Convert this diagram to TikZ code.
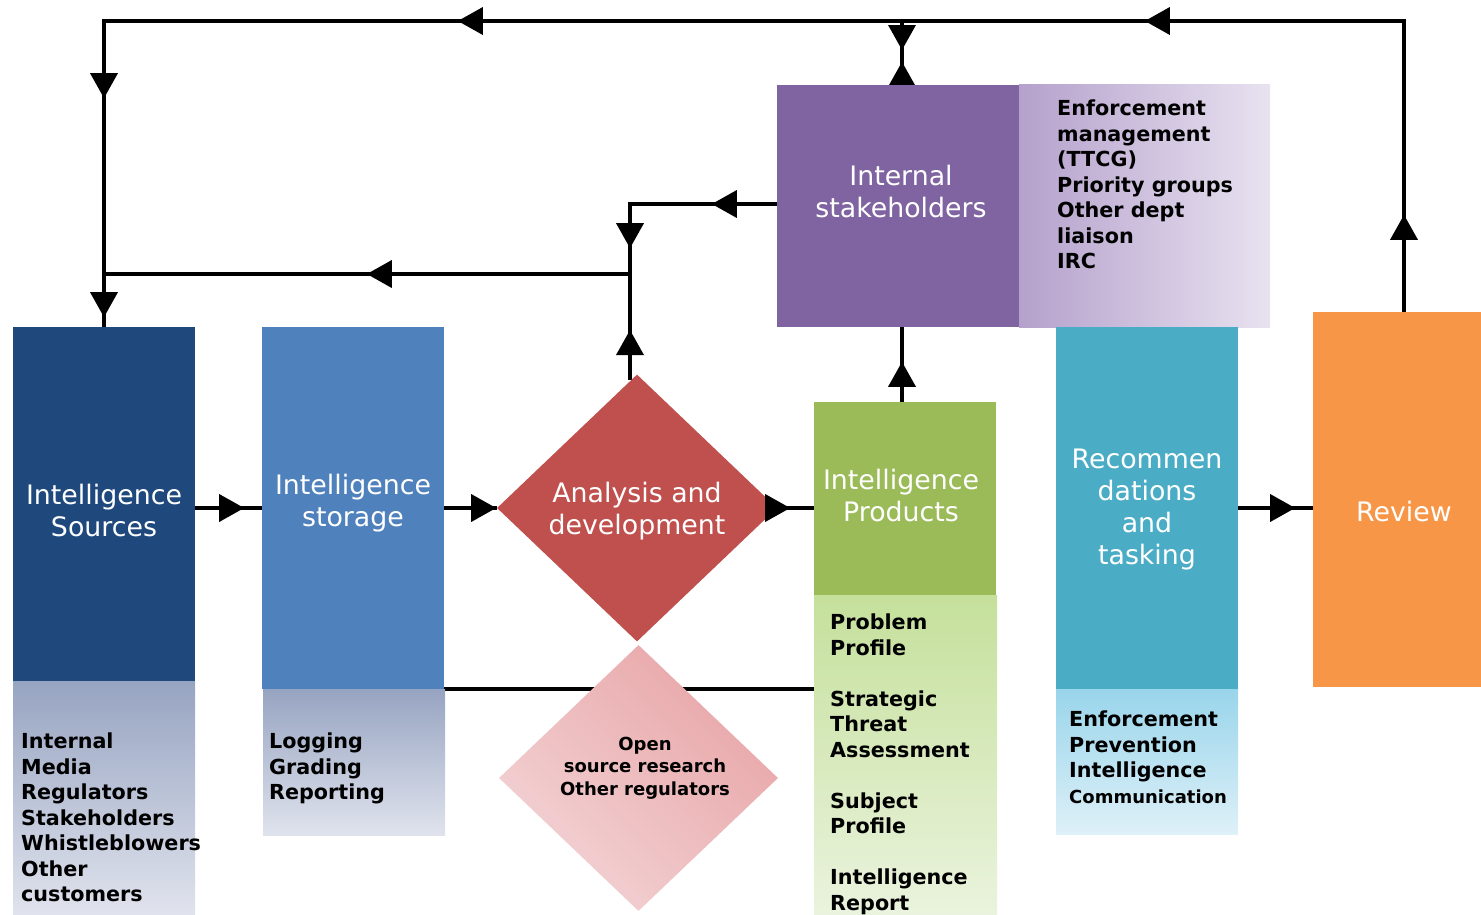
\documentclass[tikz,border=0pt]{standalone}
\usepackage{fontspec}
\setmainfont{DejaVu Sans}
\usetikzlibrary{shapes.geometric,arrows.meta,decorations.markings,backgrounds}
\definecolor{cSrc}{HTML}{1F497D}
\definecolor{cSto}{HTML}{4F81BD}
\definecolor{cAna}{HTML}{C0504D}
\definecolor{cPrd}{HTML}{9BBB59}
\definecolor{cStk}{HTML}{8064A2}
\definecolor{cRec}{HTML}{4BACC6}
\definecolor{cRev}{HTML}{F79646}
\definecolor{cGrayTop}{HTML}{97A4C1}
\definecolor{cGrayBot}{HTML}{E0E3ED}
\definecolor{cPrdTop}{HTML}{C5E09B}
\definecolor{cPrdBot}{HTML}{ECF4E1}
\definecolor{cRecTop}{HTML}{99D5EB}
\definecolor{cRecBot}{HTML}{DEF0F8}
\definecolor{cStkL}{HTML}{B5A1CC}
\definecolor{cStkR}{HTML}{E8E2F0}
\definecolor{cOpnDark}{HTML}{E8A6A8}
\definecolor{cOpnLight}{HTML}{F3D3D5}
\newcommand\lblfont{\fontsize{26.8}{32}\selectfont}
\newcommand\lstfont{\fontsize{20.7}{25.5}\selectfont\bfseries}
\newcommand\opnfont{\fontsize{18}{22.5}\selectfont\bfseries}
\tikzset{
  blk/.style={rectangle, inner sep=0pt, draw=none, minimum width=182pt},
  lbl/.style={inner sep=0pt, align=center, text=white, font=\lblfont},
  lst/.style={anchor=north west, inner sep=0pt, align=left, font=\lstfont, text=black},
  conn/.style={line width=3.5pt, draw=black},
  tipat/.style={postaction={decorate,decoration={markings,mark=at position #1 with {\arrow{Triangle[length=25pt,width=27pt]}}}}}
}
\begin{document}
\begin{tikzpicture}[x=1pt,y=-1pt]
\useasboundingbox (0,0) rectangle (1481,914);
% boxes
\node[blk, fill=cSrc, minimum height=354pt] (src) at (104,504) {};
\node[blk, top color=cGrayTop, bottom color=cGrayBot, minimum height=233pt] (srcsub) at (104,797.5) {};
\node[blk, fill=cSto, minimum height=362pt] (sto) at (353,508) {};
\node[blk, top color=cGrayTop, bottom color=cGrayBot, minimum height=146pt] (stosub) at (354,762) {};
\node[diamond, inner sep=0pt, fill=cAna, minimum width=280pt, minimum height=267pt] (ana) at (637,508) {};
\node[diamond, inner sep=0pt, top color=cOpnDark, bottom color=cOpnLight, shading angle=-45, minimum width=279pt, minimum height=266pt] (opn) at (638.5,778) {};
\node[blk, fill=cPrd, minimum height=193pt] (prd) at (905,498.5) {};
\node[blk, top color=cPrdTop, bottom color=cPrdBot, minimum width=183pt, minimum height=335pt] (prdsub) at (905.5,762.5) {};
\node[blk, fill=cStk, minimum width=242pt, minimum height=242pt] (stk) at (898,206) {};
\node[blk, left color=cStkL, right color=cStkR, minimum width=251pt, minimum height=243pt] (stkside) at (1144.5,205.5) {};
\node[blk, fill=cRec, minimum height=362pt] (rec) at (1147,508) {};
\node[blk, top color=cRecTop, bottom color=cRecBot, minimum height=145pt] (recsub) at (1147,761.5) {};
\node[blk, fill=cRev, minimum height=375pt] (rev) at (1404,499.5) {};
% labels
\node[lbl] (srcl) at (104,510) {Intelligence\\Sources};
\node[lbl] (stol) at (353,503) {Intelligence\\storage};
\node[lbl] (anal) at (637,511) {Analysis and\\development};
\node[lbl] (stkl) at (901,192) {Internal\\stakeholders};
\node[lbl] (prdl) at (901,495) {Intelligence\\Products};
\node[lbl] (recl) at (1147,510) {Recommen\\dations\\and\\tasking};
\node[lbl] (revl) at (1404,511) {Review};
% lists
\node[lst] (srclist) at (21,733) {Internal\\Media\\Regulators\\Stakeholders\\Whistleblowers\\Other\\customers};
\node[lst] (stolist) at (269,733) {Logging\\Grading\\Reporting};
\node[lst] (stklist) at (1057,100) {Enforcement\\management\\(TTCG)\\Priority groups\\Other dept\\liaison\\IRC};
\node[lst] (prdlist) at (830,614) {Problem\\Profile\\[25.5pt]Strategic\\Threat\\Assessment\\[25.5pt]Subject\\Profile\\[25.5pt]Intelligence\\Report};
\node[lst] (reclist) at (1069,711) {Enforcement\\Prevention\\Intelligence\\{\fontsize{18}{24}\selectfont Communication}};
\node[inner sep=0pt, align=center, font=\opnfont] (opnl) at (645,768) {Open\\source research\\Other regulators};
% connector coordinates
\coordinate (tr) at (1404,21);
\coordinate (tl) at (104,21);
\coordinate (tm) at (902,21);
\coordinate (c1) at (630,204);
\coordinate (c2) at (630,274);
\coordinate (jl) at (104,274);
\coordinate (aup) at (630,380);
\begin{pgfonlayer}{background}
\draw[conn, tipat=97pt, tipat=550pt, tipat=1237pt, tipat=1668pt, tipat=1887pt] (rev.north) -- (tr) -- (tl) -- (src.north);
\draw[conn, tipat=29pt] (tm) -- (tm |- stk.north);
\draw[conn, tipat=23pt] (tm |- stk.north) -- (tm);
\draw[conn, tipat=65pt, tipat=191pt, tipat=480pt] (stk.west |- c1) -- (c1) -- (c2) -- (jl);
\draw[conn, tipat=50pt] (aup) -- (c2);
\draw[conn, tipat=40pt] (tm |- prd.north) -- (tm |- stk.south);
\draw[conn, tipat=49pt] (src.east |- sto.west) -- (sto.west);
\draw[conn, tipat=57pt] (rec.east) -- (rec.east -| rev.west);
\draw[conn] (sto.south east) -- (sto.south east -| prd.west);
\end{pgfonlayer}
\draw[conn, tipat=52pt] (sto.east) -- (ana.west);
\draw[conn, tipat=13pt] (ana.east) -- (ana.east -| prd.west);
\end{tikzpicture}
\end{document}
